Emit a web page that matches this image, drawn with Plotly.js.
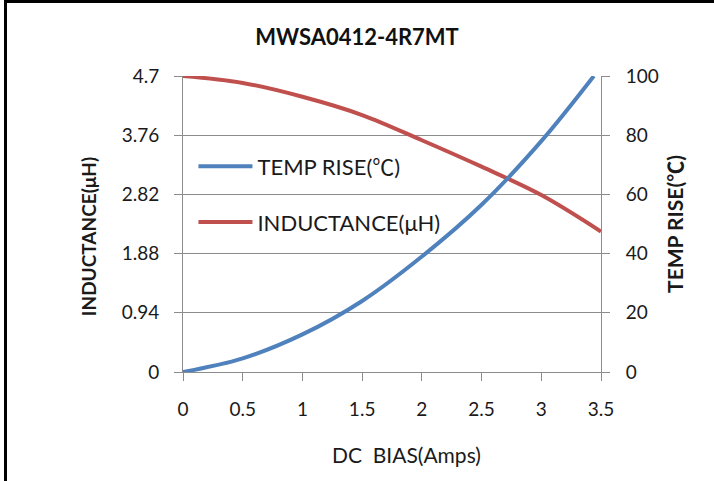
<!DOCTYPE html>
<html>
<head>
<meta charset="utf-8">
<script src="https://cdn.plot.ly/plotly-3.0.1.min.js"></script>
<style>
  html, body { margin: 0; padding: 0; background: #fff; }
  #wrap { position: relative; width: 714px; height: 481px; overflow: hidden; }
  #chart { width: 714px; height: 481px; }
  .bt { position: absolute; left: 4px; top: 0; width: 710px; height: 3px; background: #000; }
  .bl { position: absolute; left: 4px; top: 0; width: 3px; height: 481px; background: #000; }
</style>
</head>
<body>
<div id="wrap">
  <div id="chart"></div>
  <div class="bt"></div>
  <div class="bl"></div>
</div>
<script>
// Data
const tempBias = [0, 0.5, 1, 1.5, 2, 2.5, 3, 3.44];
const tempRise = [0, 4.6, 12.7, 24, 39, 56.5, 78, 100];
const indBias = [0, 0.5, 1, 1.5, 2, 2.5, 3, 3.5];
const inductance = [4.7, 4.59, 4.37, 4.08, 3.68, 3.26, 2.81, 2.23];
const yLeftTicks = [0, 0.94, 1.88, 2.82, 3.76, 4.7];
const yRightTicks = [0, 20, 40, 60, 80, 100];
const xTicks = [0, 0.5, 1, 1.5, 2, 2.5, 3, 3.5];

const FONT = 'Lato, "Open Sans", sans-serif';
const CJK = '<span style="font-family:\'Noto Sans CJK SC\'">℃</span>';
const gridC = '#8c8c8c';

const traces = [
  {
    x: tempBias, y: tempRise, yaxis: 'y2', mode: 'lines', name: 'TEMP RISE(' + CJK + ')',
    line: { color: '#4F81BD', width: 4, shape: 'spline' }, legendgroup: 'a'
  },
  {
    x: indBias, y: inductance, yaxis: 'y', mode: 'lines', name: 'INDUCTANCE(μH)',
    line: { color: '#C0504D', width: 4, shape: 'spline' }, legendgroup: 'b'
  }
];

const layout = {
  width: 714, height: 481,
  margin: { l: 183, r: 113, t: 76, b: 109 },
  paper_bgcolor: '#ffffff', plot_bgcolor: '#ffffff',
  font: { family: FONT, color: '#1a1a1a', size: 19 },
  title: {
    text: 'MWSA0412-4R7MT', x: 0.5, xanchor: 'center', xref: 'container',
    y: 0.922, yanchor: 'middle', yref: 'container',
    font: { family: FONT, size: 22, weight: 700, color: '#111' }
  },
  showlegend: true,
  legend: {
    x: 0.025, y: 0.765, xanchor: 'left', yanchor: 'top',
    bgcolor: 'rgba(0,0,0,0)', borderwidth: 0,
    traceorder: 'grouped', tracegroupgap: 24, itemwidth: 54,
    font: { family: FONT, size: 22, color: '#1a1a1a' }
  },
  annotations: [
    {
      text: 'DC  BIAS(Amps)', xref: 'paper', yref: 'paper',
      x: 0.535, y: -0.28, xanchor: 'center', yanchor: 'middle',
      showarrow: false, font: { family: FONT, size: 21, color: '#1a1a1a' }
    },
    {
      text: 'INDUCTANCE(μH)', xref: 'paper', yref: 'paper', textangle: -90,
      x: -0.227, y: 0.456, xanchor: 'center', yanchor: 'middle',
      showarrow: false, font: { family: FONT, size: 19, weight: 700, color: '#1a1a1a' }
    }
  ],
  xaxis: {
    range: [0, 3.5], tickvals: xTicks, ticktext: xTicks.map(String),
    showgrid: false, zeroline: false, showline: true, linecolor: gridC, linewidth: 1,
    ticks: 'outside', ticklen: 8, tickcolor: gridC, ticklabelstandoff: 12,
    tickfont: { size: 19 },
    fixedrange: true
  },
  yaxis: {
    range: [0, 4.7], tickvals: yLeftTicks, ticktext: yLeftTicks.map(String),
    showgrid: true, gridcolor: gridC, gridwidth: 1, zeroline: false,
    showline: true, linecolor: gridC, linewidth: 1,
    ticks: 'outside', ticklen: 8, tickcolor: gridC, ticklabelstandoff: 11,
    tickfont: { size: 19 },
    fixedrange: true
  },
  yaxis2: {
    range: [0, 100], tickvals: yRightTicks, ticktext: yRightTicks.map(String),
    overlaying: 'y', side: 'right',
    showgrid: false, zeroline: false, showline: true, linecolor: gridC, linewidth: 1,
    ticks: 'outside', ticklen: 8, tickcolor: gridC, ticklabelstandoff: 12,
    tickfont: { size: 19 },
    title: { text: 'TEMP RISE(' + CJK + ')', standoff: 10, font: { size: 21, weight: 700 } },
    fixedrange: true
  }
};

Plotly.newPlot('chart', traces, layout, { displayModeBar: false, staticPlot: true });
</script>
</body>
</html>
